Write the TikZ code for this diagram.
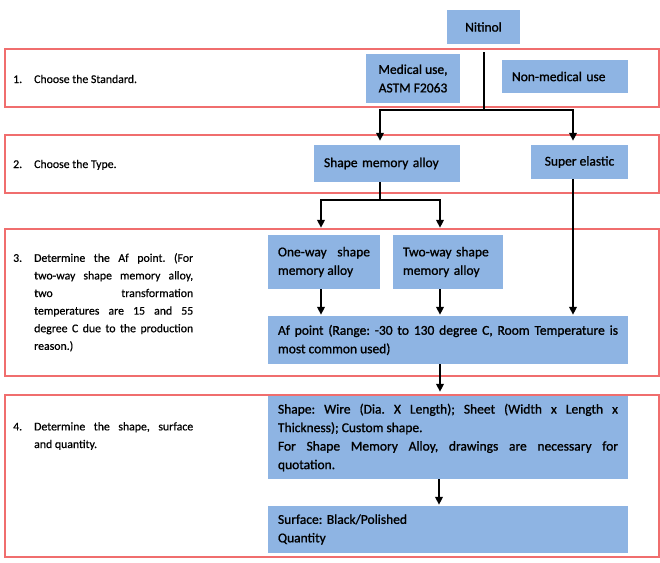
\documentclass[tikz,border=0pt]{standalone}
\usepackage{fontspec}
\setmainfont{Carlito}[FakeBold=0.5]
\newfontfamily\boxfont{Carlito}[FakeBold=1.1]
\usetikzlibrary{arrows.meta}
\definecolor{boxblue}{RGB}{142,180,227}
\definecolor{bandred}{RGB}{240,110,110}

\begin{document}
\frenchspacing
\begin{tikzpicture}[x=1pt,y=-1pt,
  band/.style={draw=bandred,line width=1.4pt},
  item/.style={fill=boxblue,inner xsep=10pt,inner ysep=0pt,
    font=\boxfont\fontsize{13.5}{18.5}\selectfont},
  steplabel/.style={anchor=base west,inner sep=0pt,font=\fontsize{11.8}{17.6}\selectfont},
  steptext/.style={anchor=north west,inner sep=0pt,font=\fontsize{11.8}{17.6}\selectfont},
  link/.style={line width=2pt},
  flow/.style={line width=2pt,-{Triangle[length=8pt,width=7.5pt]},shorten >=4pt}]
\useasboundingbox (0,0) rectangle (660,562);
% bands of the four steps
\draw[band] (5,49) rectangle (659,107);
\draw[band] (5,135) rectangle (659,193);
\draw[band] (5,229) rectangle (659,376);
\draw[band] (5,395) rectangle (659,557);
% step texts
\node[steplabel] (s1) at (13,83) {\makebox[21pt][l]{1.}Choose the Standard.};
\node[steplabel] (s2) at (13,168) {\makebox[21pt][l]{2.}Choose the Type.};
\node[steptext] (s3) at (13,253) {\makebox[21pt][l]{3.}\parbox[t]{159pt}{Determine the Af point. (For\linebreak
  two-way shape memory alloy,\linebreak two transformation\linebreak temperatures are 15 and 55\linebreak
  degree C due to the production\linebreak reason.)}};
\node[steptext] (s4) at (13,422) {\makebox[21pt][l]{4.}\parbox[t]{159pt}{Determine the shape, surface\linebreak
  and quantity.}};
% boxes
\node[item,minimum width=73pt,minimum height=34pt] (nitinol) at (483.5,27) {Nitinol};
\node[item,minimum width=94pt,minimum height=49pt,align=center] (medical) at (413,78.5) {Medical use,\\ASTM F2063};
\node[item,text width=106pt,minimum height=33pt,align=left] (nonmed) at (565,76.5) {Non-medical use};
\node[item,text width=126pt,minimum height=37pt,align=left] (sma) at (387,163.5) {Shape memory alloy};
\node[item,minimum width=97pt,minimum height=34pt] (super) at (579.5,162) {Super elastic};
\node[item,text width=92pt,minimum height=54pt,align=justify] (oneway) at (324,262) {One-way shape\linebreak memory alloy};
\node[item,text width=90pt,minimum height=54pt,align=left] (twoway) at (448,262) {Two-way shape\\memory alloy};
\node[item,text width=340pt,minimum height=48pt,align=justify] (af) at (448,340)
  {Af point (Range: -30 to 130 degree C, Room Temperature is\linebreak most common used)};
\node[item,text width=340pt,minimum height=83pt,align=justify] (shape) at (448,437.5)
  {Shape: Wire (Dia. X Length); Sheet (Width x Length x\linebreak Thickness); Custom shape.\\
   For Shape Memory Alloy, drawings are necessary for\linebreak quotation.};
\node[item,text width=340pt,minimum height=47pt,align=left] (surface) at (448,529.5)
  {Surface: Black/Polished\\Quantity};
% connectors
\coordinate (b1) at (483.5,110);
\coordinate (b2) at (380,200);
\draw[link] ([yshift=-8pt]nitinol.south) -- (b1);
\draw[flow] (b1) -| ([xshift=-7pt]sma.north);
\draw[flow] (b1) -| ([xshift=-6.5pt]super.north);
\draw[link] ([xshift=-7pt]sma.south) -- (b2);
\draw[flow,shorten >=7pt] (b2) -| ([xshift=-3pt]oneway.north);
\draw[flow,shorten >=7pt] (b2) -| ([xshift=-8pt]twoway.north);
\draw[flow,shorten >=1pt] ([xshift=-3pt]oneway.south) -- ([xshift=-3pt]oneway.south |- af.north);
\draw[flow,shorten >=1pt] ([xshift=-8pt]twoway.south) -- ([xshift=-8pt]twoway.south |- af.north);
\draw[flow,shorten >=1pt] ([xshift=-6.5pt]super.south) -- ([xshift=-6.5pt]super.south |- af.north);
\draw[flow] ([xshift=-8pt]af.south) -- ([xshift=-8pt]af.south |- shape.north);
\draw[flow,shorten >=1pt] ([xshift=-9pt]shape.south) -- ([xshift=-9pt]shape.south |- surface.north);
\end{tikzpicture}
\end{document}
